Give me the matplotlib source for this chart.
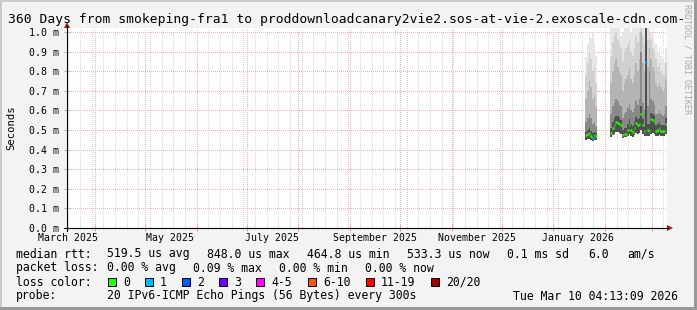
import numpy as np
import pandas as pd
import matplotlib
matplotlib.use("Agg")
import matplotlib.pyplot as plt
import matplotlib.dates as mdates
import matplotlib.transforms as mtransforms
from matplotlib.patches import Rectangle, Polygon
from matplotlib.lines import Line2D

W, H = 697, 310
MONO = "DejaVu Sans Mono"

# -------- time range --------
t_start = pd.Timestamp("2025-03-15 04:13:09")
t_end = pd.Timestamp("2026-03-10 04:13:09")

# -------- data (values in ms, one column per day) --------
days_a = pd.date_range("2026-01-20 04:13", periods=7, freq="D")
median_a = [0.474, 0.478, 0.483, 0.470, 0.460, 0.474, 0.468]
loss_a = [0, 0, 0, 0, 1, 0, 0]
lo_a = [0.450, 0.452, 0.455, 0.448, 0.445, 0.450, 0.448]
q1_a = [0.49, 0.50, 0.51, 0.495, 0.485, 0.49, 0.485]
q2_a = [0.54, 0.56, 0.58, 0.56, 0.53, 0.54, 0.52]
q3_a = [0.66, 0.70, 0.75, 0.72, 0.66, 0.68, 0.62]
q4_a = [0.78, 0.84, 0.90, 0.86, 0.80, 0.82, 0.74]
hi_a = [0.87, 0.94, 0.99, 0.97, 1.00, 0.95, 0.88]

days_b = pd.date_range("2026-02-04 04:13", periods=34, freq="D")
median_b = [0.483, 0.509, 0.525, 0.540, 0.535, 0.530, 0.525, 0.474, 0.480, 0.480,
            0.500, 0.525, 0.500, 0.490, 0.510, 0.535, 0.525, 0.530, 0.580, 0.525,
            0.495, 0.848, 0.500, 0.495, 0.555, 0.550, 0.540, 0.495, 0.500, 0.510,
            0.495, 0.495, 0.495, 0.530]
loss_b = [0] * 21 + [1] + [0] * 12
lo_b = [0.465, 0.475, 0.480, 0.490, 0.490, 0.485, 0.480, 0.460, 0.462, 0.465,
        0.470, 0.480, 0.470, 0.465, 0.475, 0.485, 0.480, 0.485, 0.500, 0.480,
        0.470, 0.470, 0.470, 0.470, 0.480, 0.485, 0.480, 0.470, 0.470, 0.475,
        0.470, 0.470, 0.470, 0.480]
q1_b = [0.51, 0.54, 0.56, 0.57, 0.57, 0.56, 0.55, 0.50, 0.51, 0.51,
        0.53, 0.555, 0.53, 0.52, 0.54, 0.565, 0.555, 0.56, 0.62, 0.555,
        0.525, 1.02, 0.53, 0.53, 0.585, 0.58, 0.57, 0.525, 0.53, 0.54,
        0.525, 0.525, 0.525, 0.56]
q2_b = [0.58, 0.62, 0.64, 0.66, 0.65, 0.63, 0.62, 0.56, 0.58, 0.59,
        0.61, 0.64, 0.60, 0.59, 0.61, 0.65, 0.63, 0.66, 0.90, 0.64,
        0.60, 1.02, 0.62, 0.80, 0.66, 0.65, 0.63, 0.58, 0.58, 0.60,
        0.58, 0.57, 0.58, 0.62]
q3_b = [0.74, 0.80, 0.84, 0.86, 0.82, 0.80, 0.78, 0.70, 0.74, 0.76,
        0.78, 0.82, 0.76, 0.74, 0.78, 0.84, 0.80, 0.86, 1.00, 0.84,
        0.80, 1.02, 0.82, 0.92, 0.86, 0.82, 0.80, 0.74, 0.72, 0.74,
        0.72, 0.70, 0.71, 0.76]
q4_b = [0.88, 0.95, 0.98, 1.00, 0.96, 0.94, 0.92, 0.85, 0.90, 0.92,
        0.94, 0.97, 0.90, 0.88, 0.92, 0.98, 0.95, 1.00, 1.02, 0.98,
        0.94, 1.02, 0.96, 1.00, 0.96, 0.92, 0.90, 0.86, 0.82, 0.84,
        0.80, 0.78, 0.78, 0.84]
hi_b = [1.02, 1.02, 1.02, 1.02, 1.02, 1.02, 0.98, 1.00, 1.02, 1.02,
        1.02, 1.02, 1.00, 1.02, 1.02, 1.02, 1.02, 1.02, 1.02, 1.02,
        1.02, 1.02, 1.02, 1.02, 1.00, 0.98, 0.95, 0.94, 0.90, 0.93,
        0.88, 0.86, 0.84, 0.92]

loss_colors = ["#26ff00", "#00b8ff", "#0059ff", "#7000ff",
               "#ff00ff", "#ff5500", "#ff0000", "#a00000"]
loss_labels = ["0", "1", "2", "3", "4-5", "6-10", "11-19", "20/20"]

label_dates = ["2025-03-16", "2025-05-16", "2025-07-16",
               "2025-09-16", "2025-11-16", "2026-01-16"]
label_texts = ["March 2025", "May 2025", "July 2025",
               "September 2025", "November 2025", "January 2026"]

smoke_colors = ["#e6e6e6", "#d0d0d0", "#b4b4b4", "#8a8a8a", "#505050"]


def fx(x):
    return x / W


def fy(y):
    return 1 - y / H


# -------- figure --------
fig = plt.figure(figsize=(W / 100, H / 100), dpi=100)
fig.patch.set_facecolor("#f3f3f3")

# 3d-ish frame
fig.add_artist(Rectangle((0, fy(2)), 1, 2 / H, transform=fig.transFigure, color="#cbcbcb", lw=0))
fig.add_artist(Rectangle((0, 0), 2 / W, 1, transform=fig.transFigure, color="#cbcbcb", lw=0))
fig.add_artist(Rectangle((fx(W - 3), 0), 3 / W, 1, transform=fig.transFigure, color="#999999", lw=0))
fig.add_artist(Rectangle((0, 0), 1, 3 / H, transform=fig.transFigure, color="#999999", lw=0))

ax = fig.add_axes([fx(67), fy(228), 600 / W, 200 / H])
ax.set_facecolor("white")
ax.set_xlim(t_start, t_end)
ax.set_ylim(0, 200 / 196)
for s in ax.spines.values():
    s.set_visible(False)

# grid
ax.xaxis.set_major_locator(mdates.MonthLocator())
ax.xaxis.set_minor_locator(mdates.WeekdayLocator(byweekday=mdates.SU))
ax.xaxis.set_major_formatter(plt.NullFormatter())
ax.grid(which="minor", axis="x", color="#dadada", lw=0.72, ls=(0, (1, 2)), antialiased=False)
ax.grid(which="major", axis="x", color="#f6b0b0", lw=0.72, ls=(0, (1, 2)), antialiased=False)
ax.set_yticks(np.arange(0, 1.01, 0.1))
ax.set_yticklabels([f"{v:.1f} m" for v in np.arange(0, 1.01, 0.1)], family=MONO, fontsize=7.1)
ax.grid(which="major", axis="y", color="#f6b0b0", lw=0.72, ls=(0, (1, 2)), antialiased=False)
ax.tick_params(axis="x", which="major", direction="inout", length=4, width=0.7, color="#e89090")
ax.tick_params(axis="x", which="minor", direction="inout", length=2, width=0.7, color="#b0b0b0")
ax.tick_params(axis="y", which="major", direction="inout", length=4, width=0.7, color="#b0b0b0", pad=4)
ax.set_axisbelow(True)

# smoke
for days, lo, q1, q2, q3, q4, hi in [(days_a, lo_a, q1_a, q2_a, q3_a, q4_a, hi_a),
                                     (days_b, lo_b, q1_b, q2_b, q3_b, q4_b, hi_b)]:
    lo = np.array(lo)
    for top, c in zip([hi, q4, q3, q2, q1], smoke_colors):
        ax.bar(days, np.array(top) - lo, bottom=lo, width=1.0, align="edge",
               color=c, lw=0, zorder=2)

# median, coloured by loss
for days, med, loss in [(days_a, median_a, loss_a), (days_b, median_b, loss_b)]:
    x0 = mdates.date2num(days)
    ax.hlines(med, x0, x0 + 1.0, colors=[loss_colors[l] for l in loss],
              lw=1.8, zorder=3)

# x labels at mid month
bt = mtransforms.blended_transform_factory(ax.transData, fig.transFigure)
for d, t in zip(label_dates, label_texts):
    ax.text(mdates.date2num(pd.Timestamp(d)), fy(238), t, transform=bt,
            ha="center", va="center", family=MONO, fontsize=7.1)

fig.text(fx(11), fy(128), "Seconds", family=MONO, fontsize=7.6,
         rotation=90, ha="center", va="center")

# axis lines with arrows
fig.add_artist(Line2D([fx(64), fx(668)], [fy(228), fy(228)], color="black", lw=0.8))
fig.add_artist(Line2D([fx(67), fx(67)], [fy(231), fy(26)], color="black", lw=0.8))
fig.add_artist(Polygon([(fx(667), fy(225)), (fx(673), fy(228)), (fx(667), fy(231))],
                       closed=True, transform=fig.transFigure, color="#a01818", lw=0))
fig.add_artist(Polygon([(fx(64), fy(28)), (fx(67), fy(22)), (fx(70), fy(28))],
                       closed=True, transform=fig.transFigure, color="#a01818", lw=0))

# title and watermark
fig.text(fx(8), fy(19), "360 Days from smokeping-fra1 to "
         "proddownloadcanary2vie2.sos-at-vie-2.exoscale-cdn.com-",
         family=MONO, fontsize=9.4, ha="left", va="center")
fig.text(fx(687), fy(4), "RRDTOOL / TOBI OETIKER", family=MONO, fontsize=6.0,
         color="#aaaaaa", rotation=270, ha="center", va="top")

# legend
LF = 8.3
rows = {
    254: [(16, "median rtt:"), (107, "519.5 us avg"), (207, "848.0 us max"),
          (307, "464.8 us min"), (407, "533.3 us now"), (507, "0.1 ms sd"),
          (588, "6.0"), (627, "am/s")],
    268: [(16, "packet loss:"), (107, "0.00 % avg"), (193, "0.09 % max"),
          (279, "0.00 % min"), (365, "0.00 % now")],
    296: [(16, "probe:"), (107, "20 IPv6-ICMP Echo Pings (56 Bytes) every 300s"),
          (513, "Tue Mar 10 04:13:09 2026")],
}
for y, items in rows.items():
    for x, s in items:
        fig.text(fx(x), fy(y), s, family=MONO, fontsize=LF, ha="left", va="center")

fig.text(fx(16), fy(282), "loss color:", family=MONO, fontsize=LF, ha="left", va="center")
box_x = [108, 145, 182, 219, 256, 308, 366, 431]
for bx, c, lab in zip(box_x, loss_colors, loss_labels):
    fig.add_artist(Rectangle((fx(bx), fy(286)), 8 / W, 8 / H, transform=fig.transFigure,
                             facecolor=c, edgecolor="black", lw=0.7))
    fig.text(fx(bx + 15), fy(282), lab, family=MONO, fontsize=LF, ha="left", va="center")

fig.savefig("out.png", dpi=100, facecolor=fig.get_facecolor())
